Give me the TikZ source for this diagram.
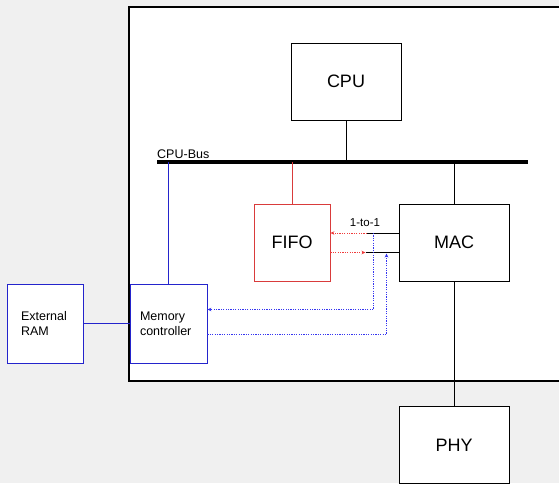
\documentclass[tikz,border=0pt]{standalone}
\usepackage{fontspec}
\setmainfont{Liberation Sans}
\usetikzlibrary{arrows.meta}
\definecolor{bggray}{HTML}{F0F0F0}
\definecolor{fifored}{HTML}{D93B3B}
\definecolor{ctlblue}{HTML}{2424CC}
\definecolor{dotblue}{HTML}{3535F0}
\definecolor{dotred}{HTML}{F03C3C}
\tikzset{
  unit/.style={draw,line width=.8pt,fill=white,minimum width=110pt,minimum height=77pt,
    inner sep=0pt,font=\fontsize{18}{20}\selectfont},
  small/.style={draw,line width=.8pt,fill=white,minimum height=79pt,align=left,
    inner ysep=0pt,font=\fontsize{12.5}{15}\selectfont},
  link/.style={line width=.8pt},
  dots/.style={line width=1pt,dash pattern=on 1.2pt off 1.2pt},
  tip/.style={-{Stealth[length=4pt,width=3.5pt]}}
}

\begin{document}
\begin{tikzpicture}[x=1pt,y=-1pt]
  \useasboundingbox (0,0) rectangle (559,483);
  \clip (0,0) rectangle (559,483);
  \fill[bggray] (0,0) rectangle (559,483);
  \draw[line width=2pt,fill=white] (129,7) rectangle (580,381);
  \coordinate (busL) at (157,162); \coordinate (busR) at (528,162);
  \draw[line width=3.5pt] (busL) -- (busR);
  \node[anchor=base west,inner sep=0pt,font=\fontsize{12.5}{15}\selectfont] (buslbl) at (157,158.3) {CPU-Bus};
  \node[unit] (cpu) at (346,81.5) {CPU};
  \node[unit,draw=fifored,minimum width=76pt] (fifo) at (292,242.5) {FIFO};
  \node[unit] (mac) at (454,242.5) {MAC};
  \node[unit] (phy) at (454,445) {PHY};
  \node[small,draw=ctlblue,text width=57pt,inner xsep=10pt] (memctl) at (168.5,323.5) {Memory\\controller};
  \node[small,draw=ctlblue,text width=48pt,inner xsep=14pt] (extram) at (45,323.5) {External\\RAM};
  \draw[link] (cpu) -- (cpu |- busL);
  \draw[link,fifored] (fifo) -- (fifo |- busL);
  \draw[link] (mac) -- (mac |- busL);
  \draw[link,ctlblue] (memctl) -- (memctl |- busL);
  \draw[link] (mac) -- (phy);
  \draw[link,ctlblue,line width=1pt] (extram) -- (memctl);
  \coordinate (upJ) at (367,233); \coordinate (loJ) at (365.5,252.5);
  \draw[link] (mac.west |- upJ) -- (upJ);
  \draw[dots,dotred,tip] (upJ) -- (fifo.east |- upJ);
  \draw[dots,dotred,tip] (fifo.east |- loJ) -- (loJ);
  \draw[link] (loJ) -- (mac.west |- loJ);
  \node[anchor=base,inner sep=0pt,font=\fontsize{11.5}{13}\selectfont] (onelbl) at (365,226.7) {1-to-1};
  \coordinate (rdTap) at (373.5,233); \coordinate (rdBend) at (373.5,309.5);
  \coordinate (wrTap) at (386.5,253.5); \coordinate (wrBend) at (386.5,334.5);
  \draw[dots,dotblue,tip] (rdTap) -- (rdBend) -- (memctl.east |- rdBend);
  \draw[dots,dotblue,tip] (memctl.east |- wrBend) -- (wrBend) -- (wrTap);
\end{tikzpicture}
\end{document}
